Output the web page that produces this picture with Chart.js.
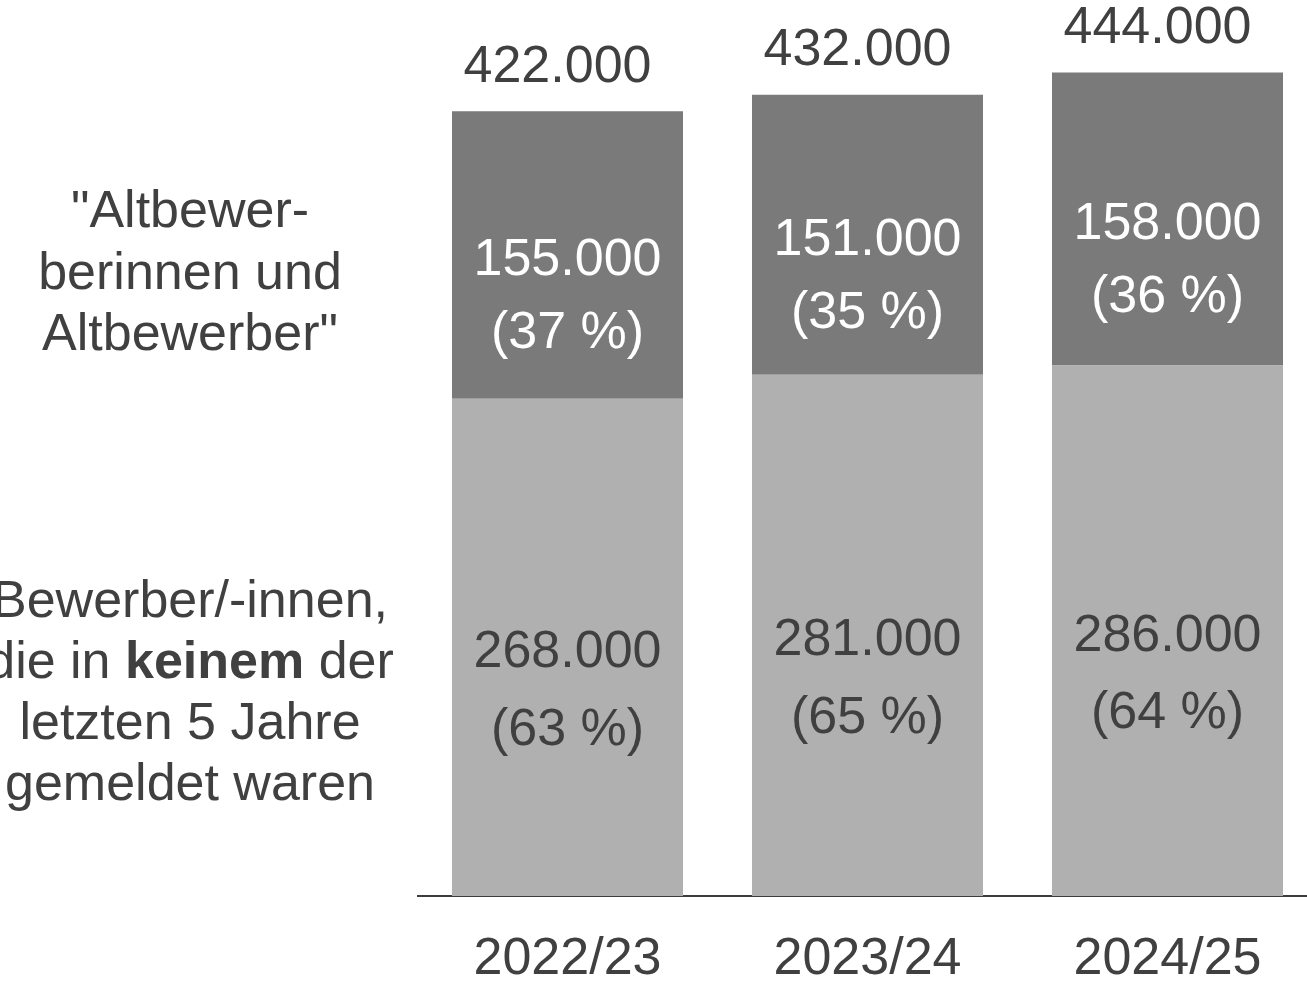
<!DOCTYPE html>
<html>
<head>
<meta charset="utf-8">
<script src="https://cdn.jsdelivr.net/npm/chart.js@4"></script>
<style>
html, body { margin: 0; padding: 0; background: #fff; overflow: hidden; }
canvas { display: block; }
</style>
</head>
<body>
<canvas id="myChart" width="1318" height="986"></canvas>
<script>
// data
let years = ['2022/23', '2023/24', '2024/25'];
let newApplicants = [268000, 281000, 286000];
let newShare = [63, 65, 64];
let oldApplicants = [155000, 151000, 158000];
let oldShare = [37, 35, 36];
let totals = [422000, 432000, 444000];

// left side captions, [text, bold]
let oldCaption = [
    [['"Altbewer-', false]],
    [['berinnen und', false]],
    [['Altbewerber"', false]]
];
let newCaption = [
    [['Bewerber/-innen,', false]],
    [['die in ', false], ['keinem', true], [' der', false]],
    [['letzten 5 Jahre', false]],
    [['gemeldet waren', false]]
];

const FONT = '"Liberation Sans", Arial, sans-serif';
const DARK_TEXT = '#404040';

function fmt(n){
    let s = String(Math.round(n));
    return s.replace(/\B(?=(\d{3})+(?!\d))/g, '.');
}

function drawRichLine(ctx, parts, cx, y){
    let total = 0;
    parts.forEach(function(p){
        ctx.font = (p[1] ? 'bold ' : '') + '52px ' + FONT;
        total += ctx.measureText(p[0]).width;
    });
    let x = cx - total / 2;
    ctx.textAlign = 'left';
    parts.forEach(function(p){
        ctx.font = (p[1] ? 'bold ' : '') + '52px ' + FONT;
        ctx.fillText(p[0], x, y);
        x += ctx.measureText(p[0]).width;
    });
}

const labelPlugin = {
    id: 'labels',
    afterDatasetsDraw: function(chart){
        let ctx = chart.ctx;
        ctx.save();
        ctx.textBaseline = 'middle';
        ctx.textAlign = 'center';
        ctx.font = '52px ' + FONT;

        let newMeta = chart.getDatasetMeta(0).data;
        let oldMeta = chart.getDatasetMeta(1).data;
        for(let i = 0; i < years.length; i++){
            let nb = newMeta[i];
            let ob = oldMeta[i];
            let nc = (nb.y + nb.base) / 2;
            let oc = (ob.y + ob.base) / 2;

            ctx.fillStyle = DARK_TEXT;
            ctx.fillText(fmt(newApplicants[i]), nb.x, nc + 5.5);
            ctx.fillText('(' + newShare[i] + ' %)', nb.x, nc + 83);

            ctx.fillStyle = '#ffffff';
            ctx.fillText(fmt(oldApplicants[i]), ob.x, oc + 6);
            ctx.fillText('(' + oldShare[i] + ' %)', ob.x, oc + 79);

            ctx.fillStyle = DARK_TEXT;
            ctx.fillText(fmt(totals[i]), ob.x - 10, ob.y - 44);
        }

        // captions left of the bars
        ctx.fillStyle = DARK_TEXT;
        let oldTop = 213;
        oldCaption.forEach(function(line, k){
            drawRichLine(ctx, line, 190, oldTop + k * 61.5);
        });
        let newTop = 603;
        newCaption.forEach(function(line, k){
            drawRichLine(ctx, line, 190, newTop + k * 61);
        });
        ctx.restore();
    }
};

let ctx = document.getElementById('myChart').getContext('2d');
let config = {
    type: 'bar',
    data: {
        labels: years,
        datasets: [{
            label: 'neu',
            data: newApplicants,
            backgroundColor: '#b0b0b0',
            borderWidth: 0
        }, {
            label: 'Altbewerber',
            data: oldApplicants,
            backgroundColor: '#7a7a7a',
            borderWidth: 0
        }]
    },
    options: {
        responsive: false,
        animation: false,
        devicePixelRatio: 1,
        layout: {
            padding: { left: 417.5, right: 0.5, top: 5.6, bottom: 0 }
        },
        datasets: {
            bar: { categoryPercentage: 1, barPercentage: 0.77 }
        },
        plugins: {
            legend: { display: false },
            tooltip: { enabled: false }
        },
        scales: {
            x: {
                stacked: true,
                z: 1,
                grid: { display: false },
                border: { display: true, color: '#3c3c3c', width: 2 },
                ticks: {
                    color: DARK_TEXT,
                    padding: 30,
                    font: { family: FONT, size: 52, lineHeight: 1 }
                },
                afterFit: function(scale){
                    scale.height = 90;
                }
            },
            y: {
                stacked: true,
                display: false,
                min: 0,
                max: 480000
            }
        }
    },
    plugins: [labelPlugin]
};
let myChart = new Chart(ctx, config);
</script>
</body>
</html>
